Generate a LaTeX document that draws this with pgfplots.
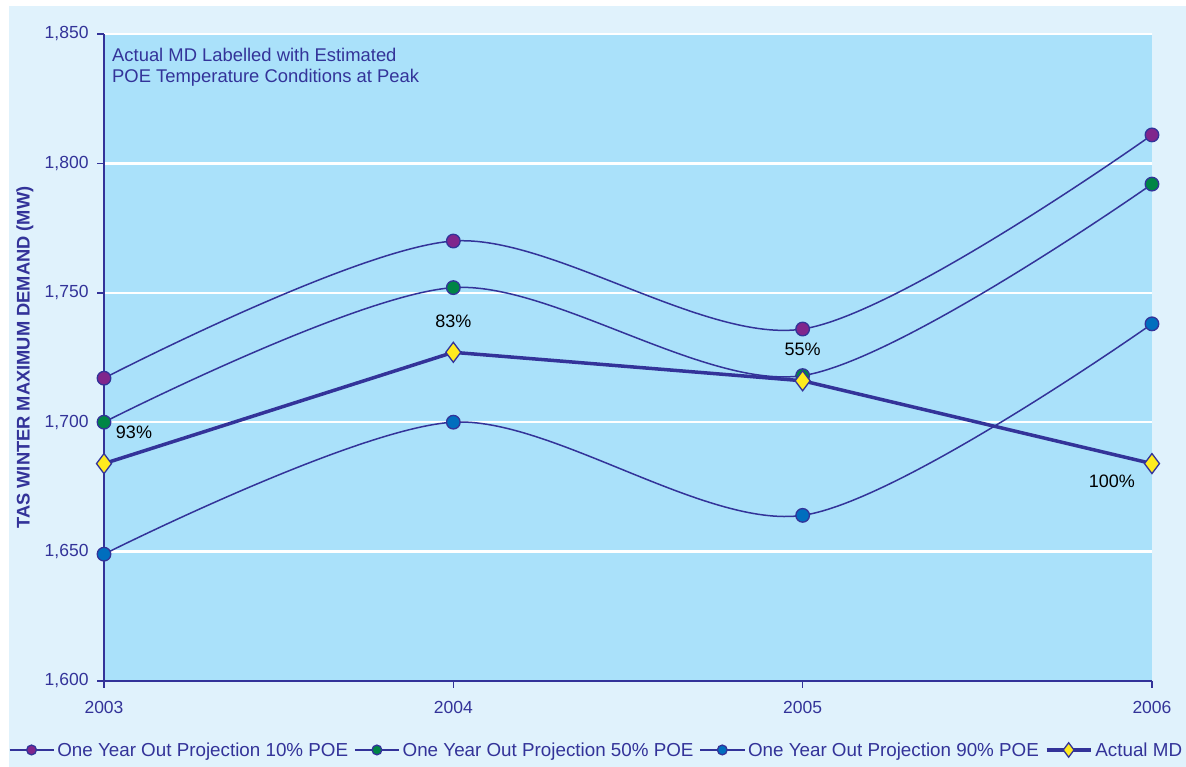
\documentclass[border=0pt]{standalone}
\usepackage{pgfplots}
\pgfplotsset{compat=1.18}
\usepackage{fontspec}
\setmainfont{Liberation Sans}

\definecolor{navy}{RGB}{51,51,153}
\definecolor{plotbg}{RGB}{170,225,250}
\definecolor{outerbg}{RGB}{224,242,252}
\definecolor{poeten}{RGB}{128,38,140}
\definecolor{poefifty}{RGB}{0,133,70}
\definecolor{poeninety}{RGB}{0,110,190}
\definecolor{mdyellow}{RGB}{255,235,30}

\pgfplotsset{
  projection/.style={navy, line width=1.5pt, smooth, tension=0.5,
    mark=*, mark size=6.8pt,
    mark options={draw=navy, line width=1.3pt, fill=#1}},
}

\begin{document}
\begin{tikzpicture}
  \fill[white] (0pt,0pt) rectangle (1186pt,767pt);
  \fill[outerbg] (9pt,0pt) rectangle (1186pt,761pt);
  \useasboundingbox (0pt,0pt) rectangle (1186pt,767pt);
  \begin{axis}[
    at={(104pt,86pt)}, anchor=south west,
    scale only axis, width=1048pt, height=647pt,
    clip=false,
    axis background/.style={fill=plotbg},
    xmin=2003, xmax=2006, ymin=1600, ymax=1850,
    xtick={2003,2004,2005,2006},
    ytick={1600,1650,...,1850},
    axis x line*=bottom, axis y line*=left,
    axis line style={navy, line width=1.5pt, -},
    tick align=outside, major tick length=7pt,
    tick style={navy, line width=1.5pt},
    ymajorgrids,
    major grid style={white, line width=2.5pt},
    /pgf/number format/assume math mode=true,
    ticklabel style={font=\fontsize{17.5}{20}\selectfont, text=navy},
    xticklabel style={/pgf/number format/1000 sep={}, yshift=-10pt},
    yticklabel style={/pgf/number format/.cd, fixed, 1000 sep={,}, /tikz/xshift=-5pt},
    ylabel={TAS WINTER MAXIMUM DEMAND (MW)},
    ylabel style={at={(axis description cs:-0.0754,0.5)}, anchor=center,
      font=\bfseries\fontsize{18.3}{20}\selectfont, text=navy},
    legend columns=4,
    legend style={at={(axis description cs:0.4704,-0.1066)}, anchor=center,
      draw=none, fill=none,
      font=\fontsize{18.8}{21}\selectfont, text=navy,
      nodes={inner xsep=3pt, inner ysep=1pt},
      /tikz/every even column/.append style={column sep=3pt}},
    legend image code/.code={
      \draw[mark repeat=2, mark phase=2, #1,
        every mark/.append style={scale=0.72}]
        plot coordinates {(0pt,0pt) (22pt,0pt) (44pt,0pt)};
    },
  ]
    % One-year-out projections at three probabilities of exceedance
    \addplot[projection=poeten] coordinates
      {(2003,1717) (2004,1770) (2005,1736) (2006,1811)};
    \addlegendentry{One Year Out Projection 10\% POE}
    \addplot[projection=poefifty] coordinates
      {(2003,1700) (2004,1752) (2005,1718) (2006,1792)};
    \addlegendentry{One Year Out Projection 50\% POE}
    \addplot[projection=poeninety] coordinates
      {(2003,1649) (2004,1700) (2005,1664) (2006,1738)};
    \addlegendentry{One Year Out Projection 90\% POE}

    % Actual maximum demand, labelled with the estimated POE at peak
    \addplot[navy, line width=3.5pt, mark=diamond*, mark size=10pt,
      mark options={draw=navy, line width=1.3pt, fill=mdyellow},
      point meta=explicit symbolic,
      visualization depends on={\thisrow{dx} \as \dx},
      visualization depends on={\thisrow{dy} \as \dy},
      nodes near coords={\pgfplotspointmeta\%},
      every node near coord/.append style={anchor=center,
        xshift=\dx pt, yshift=\dy pt, text=black,
        font=\fontsize{18}{20}\selectfont},
    ] table[x=year, y=md, meta=poe] {
      year md   poe dx  dy
      2003 1684 93  30  31
      2004 1727 83  0   31
      2005 1716 55  0   31
      2006 1684 100 -40 -18
    };
    \addlegendentry{Actual MD}

    \node[anchor=north west, align=left, inner sep=0pt, text=navy,
      font=\fontsize{18.4}{21}\selectfont]
      at (rel axis cs:0,1) [xshift=8pt, yshift=-14pt]
      {Actual MD Labelled with Estimated\\POE Temperature Conditions at Peak};
  \end{axis}
\end{tikzpicture}
\end{document}
